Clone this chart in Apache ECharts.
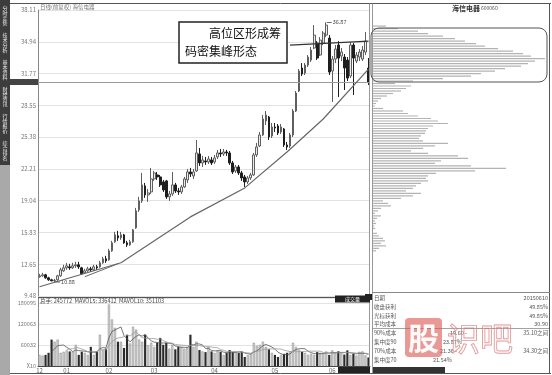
<!DOCTYPE html>
<html><head><meta charset="utf-8">
<script src="https://cdn.jsdelivr.net/npm/echarts@6/dist/echarts.min.js"></script>
<style>html,body{margin:0;padding:0;background:#fff}#c{width:552px;height:375px}</style>
</head><body><div id="c"></div>
<script>
// ---- session calendar ----
const monthNames = ['12', '01', '02', '03', '04', '05', '06'];
const monthSessions = [9, 14, 15, 20, 20, 19, 13];

// ---- daily bars: [open, close, low, high] ----
const ohlc = [
  [11.4,11.5,11.3,11.7],[11.5,11.6,11.4,11.8],[11.6,11.3,11.2,11.7],[11.3,11.1,11.0,11.4],[11.1,11.0,10.95,11.2],
  [11.0,11.05,10.88,11.2],[11.1,11.5,11.0,11.6],[11.5,12.1,11.4,12.3],[12.0,12.3,11.9,12.6],
  [12.3,12.5,12.1,12.8],[12.4,12.3,12.1,12.7],[12.3,12.5,12.2,12.8],[12.5,12.6,12.3,12.9],[12.6,12.4,12.2,12.9],
  [12.3,11.7,11.6,12.4],[11.8,12.0,11.7,12.2],[12.0,12.2,11.9,12.4],[12.2,12.1,11.9,12.4],[12.1,12.4,12.0,12.6],
  [12.4,12.3,12.1,12.6],[12.4,12.8,12.3,13.0],[12.8,13.2,12.7,13.4],[13.2,13.0,12.8,13.5],
  [13.1,14.0,13.0,14.2],[14.0,14.8,13.9,15.0],[14.9,15.6,14.8,15.9],[15.5,15.3,15.0,16.0],[15.3,15.6,15.1,15.9],
  [15.6,14.8,14.7,15.7],[14.8,14.6,14.4,15.0],[14.6,14.9,14.5,15.1],[14.9,16.1,14.8,16.2],[16.3,18.0,16.2,18.3],
  [18.1,19.0,17.9,19.4],[19.0,20.6,18.8,21.8],[20.5,19.6,19.3,20.8],[19.6,19.8,18.9,20.2],[19.9,21.2,19.7,22.3],
  [21.2,21.8,21.0,22.0],[21.6,21.4,21.1,21.9],[21.4,20.6,20.4,21.6],[20.9,20.1,19.9,21.1],[21.0,19.4,19.2,21.1],
  [19.4,19.7,19.0,20.0],[19.7,20.6,19.5,21.9],[20.6,20.0,19.8,20.8],[20.0,19.9,19.6,20.3],[19.9,20.4,19.7,20.6],
  [20.4,21.2,20.3,21.4],[21.1,21.9,20.8,22.2],[21.9,21.7,21.4,22.3],[21.5,21.9,21.2,22.2],[22.0,23.8,21.9,25.1],
  [23.7,22.8,22.5,24.3],[22.8,23.1,22.4,23.5],[23.0,22.9,22.6,23.4],[22.9,23.2,22.7,23.5],[23.1,22.8,22.6,23.4],
  [22.9,23.3,22.7,23.6],[23.4,23.8,23.2,24.1],[23.8,23.7,23.4,24.2],[23.7,23.9,23.5,24.2],[23.9,23.8,23.5,24.1],
  [23.8,22.8,22.6,24.0],[22.8,21.9,21.7,23.0],[22.0,22.4,21.8,22.6],[22.4,21.8,21.6,22.6],[21.8,21.3,21.0,22.0],
  [21.4,20.9,20.4,21.6],[20.9,21.3,20.7,21.5],[21.3,21.6,21.1,21.8],[21.6,23.6,21.5,23.8],[23.6,24.4,23.4,24.8],
  [24.5,25.6,24.4,25.9],[25.6,27.2,25.5,27.6],[27.0,27.6,26.6,28.0],[27.4,25.4,25.1,27.5],[25.5,26.4,25.3,26.8],
  [26.4,26.3,25.9,26.8],[26.5,25.8,25.6,26.7],[25.9,26.4,25.7,26.7],[26.2,24.6,24.4,26.3],[24.6,24.4,24.1,24.9],
  [24.5,25.6,24.3,25.8],[25.6,28.0,25.4,28.2],[28.0,29.8,27.9,30.0],[30.0,32.0,29.9,32.2],[32.3,31.7,31.5,32.8],
  [31.8,32.6,31.6,32.8],[32.6,33.4,32.4,33.6],[33.1,34.1,32.9,34.4],[34.3,35.6,34.2,36.6],[34.8,33.3,33.1,35.0],
  [33.6,35.1,33.5,35.4],[34.8,35.8,34.6,36.0],[35.6,36.6,35.4,36.87],[35.3,31.9,31.6,35.6],
  [32.0,33.2,28.9,33.5],[33.2,34.2,32.8,34.6],[34.6,33.3,29.4,35.0],[33.5,33.9,33.0,34.3],[33.4,32.3,30.1,33.7],
  [33.1,31.3,31.0,33.4],[31.5,34.6,31.3,34.9],[34.6,33.3,29.6,34.8],[33.0,33.6,32.8,33.9],[33.4,33.9,33.0,34.2],
  [33.2,34.1,33.0,34.5],[33.9,35.0,33.6,35.9],[32.3,30.9,30.6,33.3]
];

// ---- daily volume ----
const volumes = [
  320000,300000,320000,380000,760000,700000,760000,380000,410000,
  450000,420000,410000,610000,320000,410000,380000,320000,550000,320000,420000,900000,460000,500000,
  1770000,1340000,1100000,700000,700000,520000,900000,650000,1130000,1050000,760000,700000,900000,600000,670000,
  550000,670000,810000,610000,670000,500000,610000,480000,550000,550000,500000,550000,900000,550000,700000,460000,420000,400000,550000,420000,
  380000,450000,410000,320000,380000,460000,400000,410000,380000,410000,260000,320000,350000,670000,580000,610000,700000,550000,480000,380000,
  320000,260000,320000,350000,380000,420000,670000,550000,460000,410000,380000,320000,350000,320000,400000,380000,350000,420000,320000,
  450000,380000,420000,380000,330000,450000,318970,350000,300000,410000,420000,306288,245772
];

// ---- price axis labels ----
const priceTickLabels = ['9.48','12.65','15.83','19.04','22.21','25.38','28.55','31.77','34.94','38.11'];

// ---- chip distribution (top level price, step, amount per level going down) ----
const chipTop = 36.5;
const chipStep = 0.25;
const chipAmounts = [
  13,25,45,55,70,82,92,103,112,125,
  140,150,158,172,162,155,148,132,122,108,
  98,70,40,22,38,33,28,20,14,8,
  5,3,2,10,30,35,45,58,65,75,
  60,55,53,52,48,46,50,75,62,50,
  38,55,85,95,68,62,98,133,102,63,
  55,53,55,48,43,40,33,48,40,28,
  10,15,18,8,5,2,8,4,2,3,
  1,2,0,4,6,10,12,8,13,6,
  3
];

// ---- drawn support / resistance lines: [session index, price] ----
const supportCurve = [[0,10.41],[27,12.81],[50,17.4],[68,20.3],[82,23.9],[94,27.2],[109,32.2]];
const shortSupport = [[15,11.41],[26,12.71]];
const ceilingLine = [[83,34.6],[109,35.0]];

// ---- chip statistics rows: [label, middle, right] ----
const chipStats = [
  ['日期', '', '20150610'],
  ['收盘获利', '', '49.85%'],
  ['光标获利', '', '49.85%'],
  ['平均成本', '', '30.90'],
  ['90%成本', '19.60 -', '35.10之间'],
  ['集中度90', '23.87%', ''],
  ['70%成本', '21.30 -', '34.30之间'],
  ['集中度70', '21.54%', '']
];
const chipStatsMidX = [0, 0, 0, 0, 450, 443, 440, 433];

// ================= build =================
const FONT = '"Noto Sans CJK SC", "Noto Sans", sans-serif';
const categories = [];
const monthStart = new Set();
monthNames.forEach((m, k) => {
  monthStart.add(categories.length);
  for (let d = 1; d <= monthSessions[k]; d++) categories.push(m + '-' + d);
});

const lastClose = ohlc[ohlc.length - 1][1];
function movingAvg(n) {
  return volumes.map((v, i) => i < n - 1 ? null :
    Math.round(volumes.slice(i - n + 1, i + 1).reduce((a, b) => a + b, 0) / n));
}
const ma5 = movingAvg(5), ma10 = movingAvg(10);
const volHeader = '总手: ' + volumes[volumes.length - 1] + '  MAVOL5: ' + ma5[ma5.length - 1] +
  '  MAVOL10: ' + ma10[ma10.length - 1];

const priceMin = 9.48, priceStep = 3.1811;
const priceMax = +(priceMin + 9 * priceStep).toFixed(4);
const volTop = 1800950, volStep = volTop / 3, volMax = 1956000;

const chipData = chipAmounts.map((a, k) => [a, +(chipTop - k * chipStep).toFixed(2)]);
const volData = volumes.map((v, i) => ({
  value: v,
  itemStyle: ohlc[i][1] >= ohlc[i][0]
    ? { color: '#cfcfcf', borderColor: '#8a8a8a', borderWidth: 0.5 }
    : { color: '#2b2b2b' }
}));

function txt(x, y, text, size, o = {}) {
  return { type: 'text', z: o.z || 50, silent: true,
    style: { x, y, text, font: (o.weight || 'normal') + ' ' + size + 'px ' + FONT,
      fill: o.fill || '#555', align: o.align || 'left', verticalAlign: 'middle',
      stroke: o.stroke, lineWidth: o.lineWidth || 0 } };
}
function ln(x1, y1, x2, y2, stroke, w, z) {
  return { type: 'line', z: z || 40, silent: true, shape: { x1, y1, x2, y2 }, style: { stroke, lineWidth: w || 1 } };
}
function box(x, y, w, h, fill, o = {}) {
  return { type: 'rect', z: o.z || 30, silent: true, shape: { x, y, width: w, height: h, r: o.r || 0 },
    style: { fill, stroke: o.stroke, lineWidth: o.lw || 0, opacity: o.opacity == null ? 1 : o.opacity } };
}

const graphics = [];
// left tab strip
graphics.push(box(0, 0, 10, 165, '#3c3c3c', { z: 5 }));
graphics.push(box(0, 165, 10, 210, '#a9a9a9', { z: 5 }));
['分时走势', '技术分析', '基本资料', '财经资讯', '行情报价', '综合排名'].forEach((t, k) => {
  graphics.push(txt(5, 16 + k * 27, t.split('').join('\n'), 5, { fill: '#eeeeee', align: 'center', z: 6 }));
});
// frames
graphics.push(ln(10, 3.5, 551, 3.5, '#555', 1));
graphics.push(ln(549.5, 3.5, 549.5, 373, '#555', 1));
graphics.push(ln(10, 373.5, 551, 373.5, '#555', 1));
graphics.push(ln(369.5, 3.5, 369.5, 366, '#999', 1));
graphics.push(ln(372.5, 3.5, 372.5, 373, '#999', 1));
graphics.push(ln(38, 297.5, 370, 297.5, '#555', 1));
graphics.push(ln(372, 292.5, 550, 292.5, '#888', 1));
// titles
graphics.push(txt(40, 7, '日线(前复权) 海信电器', 5.5, { fill: '#777' }));
graphics.push(txt(452, 8, '海信电器', 7, { fill: '#333', weight: 'bold' }));
graphics.push(txt(481, 8.5, '600060', 5, { fill: '#555' }));
graphics.push(txt(40, 301, volHeader, 5.5, { fill: '#444' }));
graphics.push(box(335, 295.5, 35, 7, '#222', { z: 45 }));
graphics.push(txt(352.5, 299, '成交量', 5, { fill: '#fff', align: 'center', z: 46 }));
graphics.push(box(338, 367, 32, 6, '#222', { z: 45 }));
graphics.push(box(365, 294, 7, 6, '#222', { z: 45 }));
graphics.push(box(373, 367, 72, 6, '#333', { z: 45 }));
// annotation callout
graphics.push(box(179, 22, 108, 41, '#fff', { stroke: '#222', lw: 1.5, z: 100 }));
graphics.push(txt(281, 33, '高位区形成筹', 12, { fill: '#111', align: 'right', z: 101 }));
graphics.push(txt(185, 51, '码密集峰形态', 12, { fill: '#111', z: 101 }));
// chip peak outline
graphics.push(box(371, 28, 176, 54, 'none', { stroke: '#555', lw: 1, r: 8, z: 60 }));
// chip statistics
chipStats.forEach((row, k) => {
  const y = 298 + k * 8.8;
  graphics.push(txt(374, y, row[0], 5.5, { fill: '#555' }));
  if (row[1]) graphics.push(txt(chipStatsMidX[k], y, row[1], 5.5, { fill: '#555' }));
  if (row[2]) graphics.push(txt(548, y, row[2], 5.5, { fill: '#555', align: 'right' }));
});
graphics.push(ln(372, 328.5, 549, 328.5, '#8a8a8a', 0.8));
// watermark
graphics.push(box(405, 318, 37, 39, '#d9534f', { r: 4, opacity: 0.6, z: 120 }));
graphics.push(txt(423.5, 338, '股', 31, { fill: 'rgba(255,255,255,0.95)', align: 'center', weight: 'bold', z: 121 }));
graphics.push(txt(447, 338, '识吧', 33, { fill: 'rgba(255,255,255,0.15)', stroke: 'rgba(215,110,110,0.75)', lineWidth: 0.9, z: 121 }));

const chart = echarts.init(document.getElementById('c'));
chart.setOption({
  animation: false,
  backgroundColor: '#fff',
  grid: [
    { left: 38, top: 10, width: 332, height: 286 },
    { left: 38, top: 298, width: 332, height: 68 },
    { left: 373, top: 10, width: 176, height: 286 }
  ],
  xAxis: [
    { type: 'category', gridIndex: 0, data: categories, axisLine: { show: false }, axisTick: { show: false }, axisLabel: { show: false } },
    { type: 'category', gridIndex: 1, data: categories,
      axisLine: { lineStyle: { color: '#444' } },
      axisTick: { interval: i => monthStart.has(i), length: 2, lineStyle: { color: '#444' } },
      axisLabel: { interval: i => monthStart.has(i), formatter: v => v.split('-')[0], fontSize: 6, color: '#666', margin: 2, fontFamily: FONT } },
    { type: 'value', gridIndex: 2, min: 0, max: 176, show: false }
  ],
  yAxis: [
    { type: 'value', gridIndex: 0, min: priceMin, max: priceMax, interval: priceStep,
      axisLine: { show: true, lineStyle: { color: '#888' } }, axisTick: { show: false },
      splitLine: { lineStyle: { color: '#e2e2e2' } },
      axisLabel: { fontSize: 6, color: '#777', margin: 2, fontFamily: FONT,
        formatter: v => priceTickLabels[Math.round((v - priceMin) / priceStep)] || '' } },
    { type: 'value', gridIndex: 1, min: 0, max: volMax, interval: volStep,
      axisLine: { show: true, lineStyle: { color: '#888' } }, axisTick: { show: false },
      splitLine: { lineStyle: { color: '#e2e2e2' } },
      axisLabel: { fontSize: 5.5, color: '#777', margin: 2, fontFamily: FONT,
        formatter: v => v > volTop + 1000 ? '' : (v === 0 ? 'X10' : String(Math.round(v / 10))) } },
    { type: 'value', gridIndex: 2, min: priceMin, max: priceMax, show: false }
  ],
  series: [
    { type: 'candlestick', xAxisIndex: 0, yAxisIndex: 0, data: ohlc.map(d => [d[0], d[1], d[2], d[3]]),
      barWidth: '72%',
      itemStyle: { color: '#ececec', color0: '#1e1e1e', borderColor: '#5f5f5f', borderColor0: '#1e1e1e', borderWidth: 1 },
      markPoint: {
        symbol: 'rect', symbolSize: [5, 0.8], symbolOffset: [3, 0], silent: true,
        itemStyle: { color: '#444' },
        label: { position: 'right', distance: 1, fontSize: 5.5, color: '#444', fontFamily: FONT, formatter: p => Number(p.value).toFixed(2) },
        data: [{ type: 'max', valueDim: 'highest' }, { type: 'min', valueDim: 'lowest' }]
      },
      markLine: { silent: true, symbol: 'none', label: { show: false },
        lineStyle: { color: '#9a9a9a', width: 1, type: 'solid' }, data: [{ yAxis: lastClose }] } },
    { type: 'line', xAxisIndex: 0, yAxisIndex: 0, data: supportCurve, symbol: 'none', silent: true, z: 5,
      lineStyle: { color: '#666', width: 1.2 } },
    { type: 'line', xAxisIndex: 0, yAxisIndex: 0, data: shortSupport, symbol: 'none', silent: true, z: 5,
      lineStyle: { color: '#666', width: 1 } },
    { type: 'line', xAxisIndex: 0, yAxisIndex: 0, data: ceilingLine, symbol: 'none', silent: true, z: 5,
      lineStyle: { color: '#333', width: 1.3 } },
    { type: 'bar', xAxisIndex: 1, yAxisIndex: 1, data: volData, barWidth: '72%' },
    { type: 'line', xAxisIndex: 1, yAxisIndex: 1, data: ma5, symbol: 'none', silent: true,
      lineStyle: { color: '#555', width: 0.8 } },
    { type: 'line', xAxisIndex: 1, yAxisIndex: 1, data: ma10, symbol: 'none', silent: true,
      lineStyle: { color: '#9a9a9a', width: 0.8 } },
    { type: 'custom', xAxisIndex: 2, yAxisIndex: 2, data: chipData, silent: true,
      encode: { x: 0, y: 1 },
      renderItem: (params, api) => {
        const p0 = api.coord([0, api.value(1)]);
        const p1 = api.coord([api.value(0), api.value(1)]);
        return { type: 'rect', shape: { x: p0[0], y: p0[1] - 0.6, width: p1[0] - p0[0], height: 1.2 },
          style: { fill: '#b3b3b3' } };
      } }
  ],
  graphic: graphics
});

// last-price marker on the price axis
const yLast = chart.convertToPixel({ yAxisIndex: 0 }, lastClose);
chart.setOption({ graphic: graphics.concat([
  box(10, yLast - 3, 28, 6, '#444', { z: 48 })
]) });
</script>
</body></html>
